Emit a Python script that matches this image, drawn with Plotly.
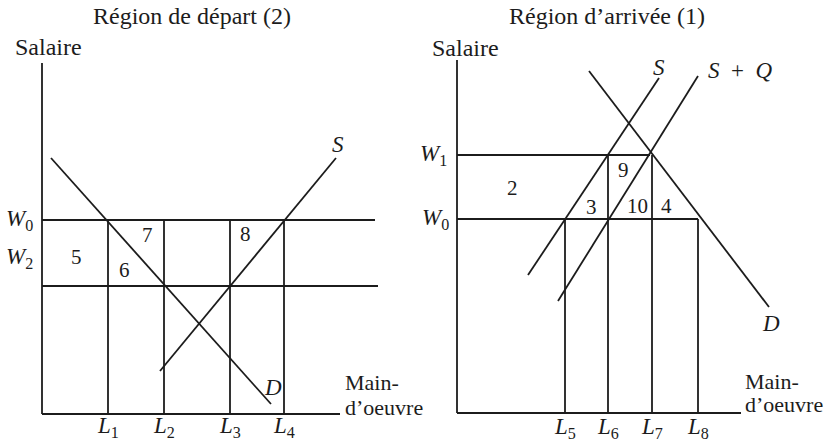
import plotly.graph_objects as go

# ---------------- Data (abstract diagram units) ----------------
# Left panel: Région de départ (2)
left_L = [6.6, 12.2, 18.8, 24.2]          # L1..L4
left_L_labels = ["1", "2", "3", "4"]
left_W0 = 19.4
left_W2 = 12.8
left_axis_x_end = 29.8
left_axis_y_end = 35.1
left_W0_end = 33.3
left_W2_end = 33.6
left_D_x = [0.9, 22.9]
left_D_y = [25.6, 1.0]
left_S_x = [11.8, 29.4]
left_S_y = [4.3, 25.6]
left_areas = ["5", "6", "7", "8"]
left_area_x = [3.4, 8.2, 10.5, 20.3]
left_area_y = [15.7, 14.4, 17.9, 18.0]

# Right panel: Région d'arrivée (1)
right_L = [10.8, 15.1, 19.5, 24.1]        # L5..L8
right_L_labels = ["5", "6", "7", "8"]
right_L_tops = ["W0", "W1", "W1", "W0"]
right_W1 = 25.8
right_W0 = 19.4
right_axis_x_end = 28.4
right_axis_y_end = 35.3
right_W1_end = 19.3
right_W0_end = 24.1
right_S_x = [7.1, 20.2]
right_S_y = [13.8, 33.5]
right_SQ_x = [10.1, 24.1]
right_SQ_y = [11.2, 33.7]
right_D_x = [13.2, 31.2]
right_D_y = [34.2, 10.6]
right_areas = ["2", "3", "9", "10", "4"]
right_area_x = [5.5, 13.4, 16.6, 18.0, 20.9]
right_area_y = [22.5, 20.6, 24.3, 20.7, 20.7]

# ---------------- Styling ----------------
INK = "#1c1c1c"
LW = 1.8
FONT = "Liberation Serif"

fig = go.Figure()


def seg(x, y, xa, ya):
    fig.add_trace(go.Scatter(x=x, y=y, mode="lines", xaxis=xa, yaxis=ya,
                             line=dict(color=INK, width=LW),
                             hoverinfo="skip", showlegend=False))


def txt(x, y, text, xa, ya, size=20, xanchor="center", yanchor="middle"):
    fig.add_annotation(x=x, y=y, xref=xa, yref=ya, text=text, showarrow=False,
                       xanchor=xanchor, yanchor=yanchor,
                       font=dict(family=FONT, size=size, color=INK))


LBL = 23
NUM = 21
TTL = 24

# ---- Left panel ----
xa, ya = "x", "y"
seg([0, 0], [0, left_axis_y_end], xa, ya)
seg([0, left_axis_x_end], [0, 0], xa, ya)
seg([0, left_W0_end], [left_W0, left_W0], xa, ya)
seg([0, left_W2_end], [left_W2, left_W2], xa, ya)
for L in left_L:
    seg([L, L], [0, left_W0], xa, ya)
seg(left_D_x, left_D_y, xa, ya)
seg(left_S_x, left_S_y, xa, ya)
for t, x, y in zip(left_areas, left_area_x, left_area_y):
    txt(x, y, t, xa, ya, size=NUM)
for L, lab in zip(left_L, left_L_labels):
    txt(L, -1.3, "<i>L</i><sub>%s</sub>" % lab, xa, ya, size=LBL)
txt(-0.7, left_W0, "<i>W</i><sub>0</sub>", xa, ya, size=LBL, xanchor="right")
txt(-0.7, 15.6, "<i>W</i><sub>2</sub>", xa, ya, size=LBL, xanchor="right")
txt(29.6, 27.0, "<i>S</i>", xa, ya, size=LBL)
txt(23.1, 2.7, "<i>D</i>", xa, ya, size=LBL)
txt(-2.9, 36.7, "Salaire", xa, ya, size=TTL, xanchor="left")
txt(15.0, 39.8, "Région de départ (2)", xa, ya, size=TTL)
txt(30.1, 3.2, "Main-", xa, ya, size=22, xanchor="left")
txt(30.1, 0.7, "d’oeuvre", xa, ya, size=22, xanchor="left")

# ---- Right panel ----
xa, ya = "x2", "y2"
seg([0, 0], [0, right_axis_y_end], xa, ya)
seg([0, right_axis_x_end], [0, 0], xa, ya)
seg([0, right_W1_end], [right_W1, right_W1], xa, ya)
seg([0, right_W0_end], [right_W0, right_W0], xa, ya)
wmap = {"W0": right_W0, "W1": right_W1}
for L, top in zip(right_L, right_L_tops):
    seg([L, L], [0, wmap[top]], xa, ya)
seg(right_S_x, right_S_y, xa, ya)
seg(right_SQ_x, right_SQ_y, xa, ya)
seg(right_D_x, right_D_y, xa, ya)
for t, x, y in zip(right_areas, right_area_x, right_area_y):
    txt(x, y, t, xa, ya, size=NUM)
for L, lab in zip(right_L, right_L_labels):
    txt(L, -1.5, "<i>L</i><sub>%s</sub>" % lab, xa, ya, size=LBL)
txt(-0.8, right_W1, "<i>W</i><sub>1</sub>", xa, ya, size=LBL, xanchor="right")
txt(-0.6, right_W0, "<i>W</i><sub>0</sub>", xa, ya, size=LBL, xanchor="right")
txt(20.2, 34.6, "<i>S</i>", xa, ya, size=LBL)
txt(28.3, 34.3, "<i>S</i>  +  <i>Q</i>", xa, ya, size=LBL)
txt(31.4, 9.0, "<i>D</i>", xa, ya, size=LBL)
txt(-2.7, 36.5, "Salaire", xa, ya, size=TTL, xanchor="left")
txt(15.0, 39.7, "Région d’arrivée (1)", xa, ya, size=TTL)
txt(28.6, 3.2, "Main-", xa, ya, size=22, xanchor="left")
txt(28.6, 0.9, "d’oeuvre", xa, ya, size=22, xanchor="left")

ax_common = dict(visible=False, showgrid=False, zeroline=False, fixedrange=True)
fig.update_layout(
    width=833, height=442,
    margin=dict(l=0, r=0, t=0, b=0),
    paper_bgcolor="white", plot_bgcolor="white",
    showlegend=False,
    font=dict(family=FONT, color=INK),
    xaxis=dict(domain=[0, 416 / 833], range=[-4.2, 37.4], **ax_common),
    yaxis=dict(domain=[0, 1], range=[-2.8, 41.4], **ax_common),
    xaxis2=dict(domain=[416 / 833, 1], range=[-4.1, 37.6], anchor="y2", **ax_common),
    yaxis2=dict(domain=[0, 1], range=[-2.9, 41.3], anchor="x2", **ax_common),
)

fig.write_html(
    "out.html",
    config={"displayModeBar": False},
    post_script="document.body.style.margin='0';document.body.style.overflow='hidden';",
)
